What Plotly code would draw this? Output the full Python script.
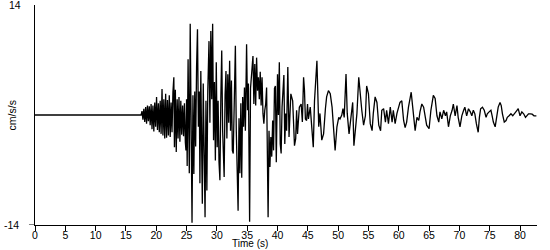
import plotly.graph_objects as go

# Time (s) and acceleration (cm/s/s)
time_s = [
    0.0, 17.4,
    17.5, 17.65, 17.8, 17.95, 18.1, 18.25, 18.4, 18.55, 18.7, 18.85, 19.0, 19.15, 19.3, 19.45, 19.6, 19.75, 19.9,
    20.05, 20.2, 20.35, 20.5, 20.65, 20.8, 20.95, 21.1, 21.25, 21.4, 21.55, 21.7, 21.85, 22.0, 22.15, 22.3, 22.45,
    22.6, 22.75, 22.9, 23.0, 23.15, 23.3, 23.45, 23.6, 23.75, 23.9, 24.05, 24.2, 24.35, 24.5, 24.65, 24.8, 24.9,
    25.0, 25.1, 25.25, 25.35, 25.45,
    25.6, 25.75, 25.9, 26.05, 26.2, 26.35, 26.5, 26.65, 26.8, 26.95, 27.1, 27.2, 27.35, 27.5, 27.6, 27.75, 27.9,
    28.05, 28.2, 28.35, 28.5, 28.7, 28.85, 29.0, 29.15, 29.3, 29.45, 29.6, 29.75, 29.9, 30.05, 30.2, 30.35, 30.5,
    30.65, 30.8, 30.95, 31.2, 31.35, 31.5, 31.65, 31.8, 31.95, 32.1, 32.25, 32.4, 32.55, 32.7, 32.85, 33.05, 33.2,
    33.35, 33.5, 33.65, 33.8, 33.95, 34.1, 34.25, 34.4, 34.55, 34.7, 34.9, 35.05, 35.2, 35.4, 35.55, 35.75, 35.95,
    36.1, 36.25, 36.4, 36.55, 36.7, 36.85, 37.0, 37.15, 37.3, 37.45, 37.6, 37.75, 37.9, 38.05, 38.2, 38.3, 38.45,
    38.6, 38.75, 38.9, 39.05, 39.2, 39.35, 39.5, 39.65, 39.8, 40.0, 40.15, 40.3, 40.45, 40.6, 40.75, 40.9, 41.05,
    41.2, 41.35, 41.5, 41.7, 41.9, 42.2, 42.5, 42.8, 43.0, 43.15, 43.3, 43.6, 43.9, 44.1, 44.3, 44.45, 44.6, 44.8,
    44.95, 45.1, 45.4, 45.7, 45.9, 46.1, 46.3, 46.5, 46.8, 47.0, 47.3, 47.6, 47.9, 48.1, 48.4, 48.7, 49.0, 49.2,
    49.5, 49.8, 50.1, 50.3, 50.6, 50.8, 51.0, 51.3, 51.5, 51.8, 52.1, 52.4, 52.6, 52.9, 53.1, 53.4, 53.6, 53.9,
    54.2, 54.5, 54.7, 55.0, 55.3, 55.6, 55.8, 56.1, 56.4, 56.7, 57.0, 57.2, 57.5, 57.8, 58.0, 58.3, 58.6, 58.9,
    59.1, 59.4, 59.7, 60.0, 60.2, 60.5, 60.8, 61.05, 61.3, 61.6, 61.9, 62.05, 62.3, 62.5, 62.7, 63.0, 63.3, 63.5,
    63.8, 64.1, 64.4, 64.6, 65.0, 65.3, 65.7, 66.0, 66.3, 66.6, 66.8, 67.1, 67.4, 67.7, 67.9, 68.2, 68.5, 68.8,
    69.0, 69.3, 69.6, 69.8, 70.1, 70.4, 70.7, 70.9, 71.2, 71.5, 71.8, 72.05, 72.3, 72.55, 72.8, 73.1, 73.3, 73.5,
    73.8, 74.1, 74.4, 74.6, 74.9, 75.2, 75.4, 75.6, 75.9, 76.2, 76.4, 76.7, 76.9, 77.1, 77.4, 77.7, 77.9, 78.2,
    78.5, 78.8, 79.1, 79.5, 79.7, 80.0, 80.3, 80.6, 80.9, 81.2, 81.4, 81.7, 82.0, 82.3, 82.7,
]

accel = [
    0.0, 0.0,
    0.0, 0.5, -0.6, 0.8, -0.9, 1.0, -1.1, 1.2, -0.8, 1.1, -1.3, 1.4, -1.8, 1.2, -2.1, 1.6, -1.5,
    2.3, -1.9, 1.5, -2.2, 1.8, -2.4, 3.3, -2.6, 2.0, -3.0, 2.7, -2.9, 1.9, -2.6, 2.5, -2.8, 1.6,
    -2.2, 2.9, 4.8, -4.1, 3.2, -4.7, 2.0, -3.0, 2.3, -3.4, 1.8, -2.5, 1.2, -2.7, 1.5, -3.5, -4.5,
    2.0, -6.5, 7.1, -4.0, -7.4,
    11.6, -3.0, -13.7, 2.5, -7.5, 3.0, -4.0, 6.0, 10.9, -1.5, 3.0, -8.7, 5.6, -5.0, -11.3, 4.0, -6.2,
    -13.0, 1.8, -9.6, 3.0, 9.4, -1.0, 10.7, 2.0, 11.6, -3.2, 4.2, -5.8, 6.7, -4.1, 1.8, -6.0, -8.3,
    2.0, 8.2, -2.0, -7.9, 2.5, 5.6, -3.0, 5.2, -1.0, 6.9, -2.0, 4.4, -4.5, -4.9, 1.0, 8.8, -2.0,
    -6.0, -12.2, -0.4, -7.4, 1.5, -8.0, 2.3, -1.5, 3.5, -2.0, 9.0, 0.6, 4.0, -13.6, 3.4, 5.6, 7.5,
    1.4, 6.5, 1.2, 7.3, 3.1, 4.8, 2.0, 5.5, 1.2, 4.8, 0.2, -1.1, 0.6, 1.4, 3.5, -2.0, -13.0,
    -2.0, -6.6, -2.8, -5.3, -0.7, -4.5, 3.4, 3.7, -6.0, 5.2, 0.0, 6.7, -3.7, -4.9, 1.0, 4.4, 5.1,
    -3.7, 0.2, -2.0, 6.1, -2.8, 2.7, 1.8, -3.9, -3.0, 0.6, -2.4, 1.0, 1.4, -0.9, 4.8, 3.1, -0.5, -0.7,
    1.4, -0.5, 1.0, -2.8, -4.1, 1.8, 4.4, 6.9, -1.5, 0.2, -3.2, -2.4, 0.8, 2.3, 3.1, 2.7, 1.0, -1.5,
    -4.5, -1.5, -0.3, -0.5, 0.0, 0.8, -0.3, 5.2, 0.2, -2.4, -0.7, 1.6, -3.9, -1.5, 0.2, 4.8, 2.7, 0.6,
    -1.3, -0.1, 3.7, 2.7, -1.1, -2.0, 0.2, 2.3, 1.6, -1.3, -2.0, 0.6, 0.8, -0.9, 0.6, -1.1, 1.0, -0.9,
    0.6, -1.1, 0.2, 1.0, 1.6, 1.8, -0.7, -1.6, -0.9, 1.0, 2.7, 2.9, 1.0, -1.1, -2.0, -0.3, -0.7, 0.4,
    1.4, 1.0, -0.1, -1.3, -1.75, 0.6, 2.5, 2.1, -0.1, -0.9, 0.4, -0.5, 0.6, -0.1, 0.4, -1.5, -0.1, 0.6,
    1.4, -0.1, 1.2, -0.3, -1.5, -0.1, 0.6, 1.0, -0.1, 0.8, 0.4, -0.1, 0.6, 0.15, -1.1, -2.2, -0.3, 0.8,
    1.0, 0.6, -0.3, 0.15, 0.4, 0.6, -0.1, -0.9, -1.5, -0.3, 1.0, 1.6, 1.2, 0.15, -0.9, -0.7, -0.3, -0.1,
    0.15, -0.1, 0.15, 0.6, 0.8, -0.1, 0.4, 0.15, -0.3, -0.1, 0.15, 0.15, 0.1, -0.1, -0.1,
]

x_ticks = [0, 5, 10, 15, 20, 25, 30, 35, 40, 45, 50, 55, 60, 65, 70, 75, 80]
y_max, y_min = 14, -14
x_title = "Time (s)"
y_title = "cm/s/s"

FONT = "Liberation Sans, Arial, sans-serif"

fig = go.Figure()
fig.add_trace(go.Scatter(x=time_s, y=accel, mode="lines",
                         line=dict(color="black", width=1.3), hoverinfo="skip"))

fig.update_layout(
    width=550, height=250,
    margin=dict(l=35, r=13, t=5, b=25),
    paper_bgcolor="white", plot_bgcolor="white",
    showlegend=False,
    font=dict(family=FONT, size=10.5, color="black"),
    xaxis=dict(range=[0, 82.8], tickvals=x_ticks, ticks="outside", ticklen=5,
               tickcolor="black", tickwidth=1, showline=True, linecolor="black",
               linewidth=1, showgrid=False, zeroline=False, ticklabelstandoff=-5,
               tickfont=dict(family=FONT, size=10.5, color="black")),
    yaxis=dict(range=[y_min, y_max], showticklabels=False, ticks="",
               showline=True, linecolor="black", linewidth=1,
               showgrid=False, zeroline=False),
    annotations=[
        dict(text=str(y_max), xref="paper", yref="paper", x=-0.04, y=1.0,
             xanchor="center", yanchor="middle", showarrow=False,
             font=dict(family=FONT, size=10.5, color="black")),
        dict(text=str(y_min), xref="paper", yref="paper", x=-0.046, y=0.0,
             xanchor="center", yanchor="middle", showarrow=False,
             font=dict(family=FONT, size=10.5, color="black")),
        dict(text=y_title, xref="paper", yref="paper", x=-0.045, y=0.5,
             xanchor="center", yanchor="middle", textangle=-90, showarrow=False,
             font=dict(family=FONT, size=10.5, color="black")),
        dict(text=x_title, xref="paper", yref="paper", x=0.429, y=-0.085,
             xanchor="center", yanchor="middle", showarrow=False,
             font=dict(family=FONT, size=10, color="black")),
    ],
    shapes=[dict(type="line", xref="paper", yref="y", x0=-0.012, x1=0,
                 y0=y_min, y1=y_min, line=dict(color="black", width=1))],
)

fig.write_html("out.html")
